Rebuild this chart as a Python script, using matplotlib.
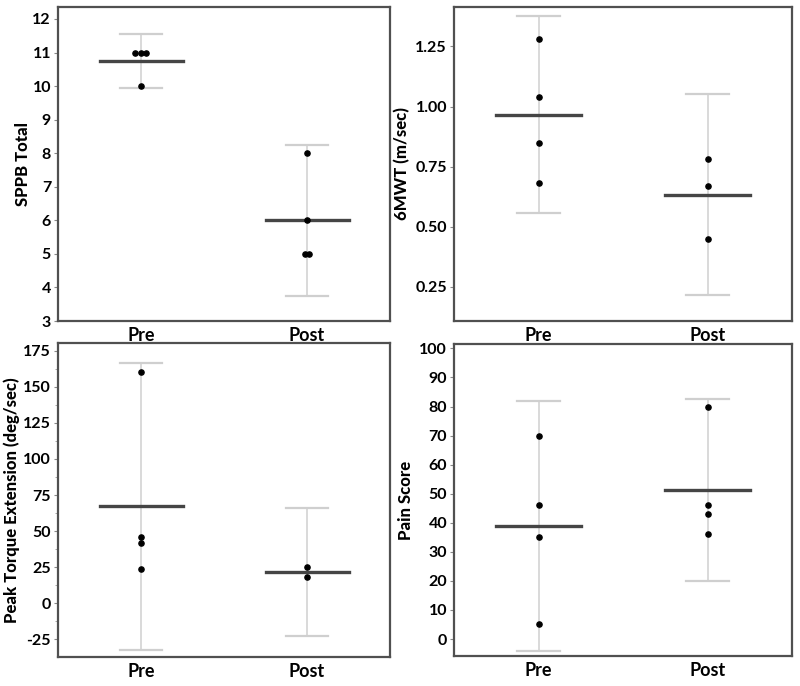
import matplotlib.pyplot as plt
from matplotlib.ticker import MultipleLocator

plt.rcParams["font.family"] = ["Lato", "DejaVu Sans"]

groups = ["Pre", "Post"]

# values: points, means, 95% CI ends
sppb_pts = [[11, 11, 11, 10], [8, 6, 5, 5]]
sppb_mean = [10.75, 6.0]
sppb_lo = [9.95, 3.75]
sppb_hi = [11.55, 8.25]

mwt_pts = [[1.28, 1.04, 0.85, 0.68], [0.78, 0.67, 0.45]]
mwt_mean = [0.963, 0.633]
mwt_lo = [0.556, 0.215]
mwt_hi = [1.378, 1.053]

torque_pts = [[160, 46, 42, 23.5], [25, 18]]
torque_mean = [67.5, 21.5]
torque_lo = [-32.3, -22.6]
torque_hi = [166.7, 66.1]

pain_pts = [[70, 46, 35, 5], [80, 46, 43, 36]]
pain_mean = [39, 51.25]
pain_lo = [-4, 20]
pain_hi = [82, 82.6]

# small horizontal spread for tied points
sppb_jit = [[-0.035, 0.0, 0.03, 0.0], [0.0, 0.0, -0.015, 0.015]]

fig = plt.figure(figsize=(8, 6.86), dpi=100)

panels = [
    ([0.0725, 0.532, 0.415, 0.458], sppb_pts, sppb_mean, sppb_lo, sppb_hi,
     "SPPB Total", (3, 12.36), 1, None, sppb_jit, "{:.0f}", 1),
    ([0.5675, 0.532, 0.4225, 0.458], mwt_pts, mwt_mean, mwt_lo, mwt_hi,
     "6MWT (m/sec)", (0.107, 1.415), 0.25, None, None, "{:.2f}", 4),
    ([0.0725, 0.0423, 0.415, 0.4577], torque_pts, torque_mean, torque_lo, torque_hi,
     "Peak Torque Extension (deg/sec)", (-37.2, 180.3), 25, 12.5, None, "{:.0f}", 2),
    ([0.5675, 0.0437, 0.4225, 0.4548], pain_pts, pain_mean, pain_lo, pain_hi,
     "Pain Score", (-5.85, 101.5), 10, None, None, "{:.0f}", 4),
]

for rect, pts, mean, lo, hi, label, ylim, step, minor, jit, fmt, lpad in panels:
    ax = fig.add_axes(rect)
    for i in range(len(groups)):
        ax.plot([i, i], [lo[i], hi[i]], color="#cfcfcf", lw=1.1, zorder=1)
        for y in (lo[i], hi[i]):
            ax.plot([i - 0.125, i + 0.125], [y, y], color="#cfcfcf", lw=1.6, zorder=1)
        ax.plot([i - 0.25, i + 0.25], [mean[i], mean[i]], color="#454545", lw=2.4, zorder=2)
        offs = jit[i] if jit else [0] * len(pts[i])
        ax.scatter([i + o for o in offs], pts[i], s=14, color="black", zorder=3)

    ax.set_xlim(-0.5, 1.5)
    ax.set_ylim(*ylim)
    ax.set_xticks(range(len(groups)))
    ax.set_xticklabels(groups, fontsize=13, fontweight="bold")
    ax.yaxis.set_major_locator(MultipleLocator(step))
    if minor:
        ax.yaxis.set_minor_locator(MultipleLocator(minor))
        ax.tick_params(axis="y", which="minor", length=2.5, color="#999999")
    ticks = [t for t in ax.get_yticks() if ylim[0] <= t <= ylim[1]]
    ax.set_yticks(ticks)
    ax.set_yticklabels([fmt.format(t) for t in ticks], fontsize=11.5, fontweight="bold")
    ax.tick_params(axis="x", length=0, pad=4)
    ax.tick_params(axis="y", length=3, color="#888888", pad=2)
    ax.set_ylabel(label, fontsize=12, fontweight="black", labelpad=lpad)
    for sp in ax.spines.values():
        sp.set_color("#505050")
        sp.set_linewidth(1.6)

plt.savefig("out.png", dpi=100)
